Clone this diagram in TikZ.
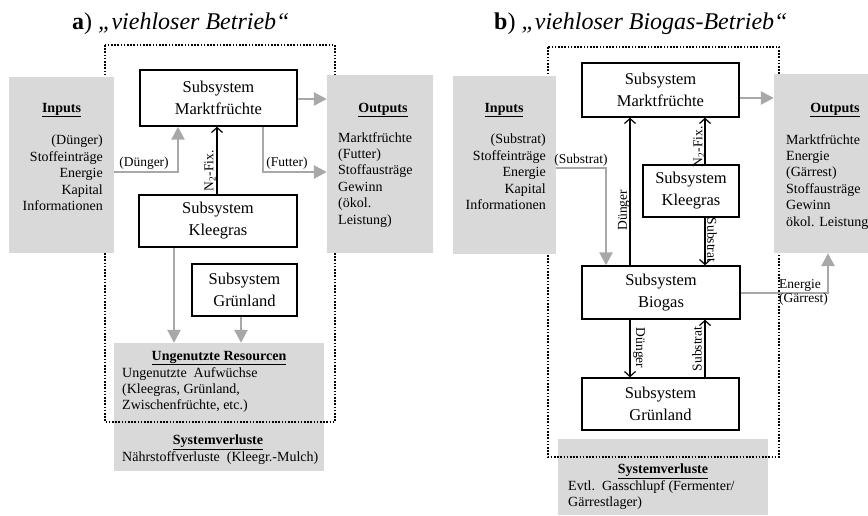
\documentclass[tikz,border=0pt]{standalone}
\usepackage{fontspec}
\setmainfont{Liberation Serif}
\usetikzlibrary{arrows.meta}
\definecolor{boxgray}{HTML}{D9D9D9}
\definecolor{arrgray}{HTML}{A8A8A8}
\tikzset{
  graybox/.style={fill=boxgray, draw=none, inner sep=0pt},
  subbox/.style={draw=black, line width=1.4pt, fill=white, inner sep=0pt, align=center, font=\fontsize{16.5}{22}\selectfont},
  garrow/.style={draw=arrgray, line width=2.6pt, -{Triangle[width=13pt,length=13pt]}},
  barrow/.style={draw=black, line width=1.2pt, -{Straight Barb[length=5pt,width=11pt,line width=1.2pt]}},
  sysframe/.style={line width=1.8pt, dash pattern=on 1.6pt off 1.6pt},
  small/.style={font=\fontsize{14}{16.4}\selectfont, inner sep=0pt},
  hdr/.style={font=\fontsize{14}{16.4}\selectfont\bfseries, inner sep=0pt},
  lbl/.style={font=\fontsize{13.5}{14}\selectfont, inner sep=0pt},
  ttl/.style={font=\fontsize{24}{28}\selectfont, inner sep=0pt, anchor=base west},
}
\begin{document}
\begin{tikzpicture}[x=1pt,y=-1pt]
\useasboundingbox (0,0) rectangle (868,515);
\fill[white] (0,0) rectangle (868,515);

% ---------- titles
\node[ttl] (titleA) at (72,29) {\textbf{a}) \textit{„viehloser Betrieb“}};
\node[ttl] (titleB) at (494,29) {\textbf{b}) \textit{„viehloser Biogas-Betrieb“}};

% ---------- lower gray boxes (under the dotted frame)
\node[graybox, minimum width=210pt, minimum height=128pt] (urA) at (219,407) {};
\node[graybox, minimum width=210pt, minimum height=76pt] (svB) at (663,477) {};

% ---------- dotted frames
\draw[sysframe] (105,45) rectangle (335,422);
\draw[sysframe] (548,47) rectangle (779,457);

% ---------- inputs / outputs boxes
\node[graybox, minimum width=105pt, minimum height=176pt] (inA) at (61.5,165) {};
\node[graybox, minimum width=106pt, minimum height=178pt] (outA) at (380,164) {};
\node[graybox, minimum width=103pt, minimum height=178pt] (inB) at (504.5,165) {};
\node[graybox, minimum width=94pt, minimum height=179pt] (outB) at (821,163.5) {};

% ---------- subsystem boxes
\node[subbox, minimum width=157pt, minimum height=56pt] (mfA) at (218.5,98) {Subsystem\\Marktfrüchte};
\node[subbox, minimum width=158pt, minimum height=52pt] (kgA) at (218,221) {Subsystem\\Kleegras};
\node[subbox, minimum width=105pt, minimum height=52pt] (glA) at (244.5,290) {Subsystem\\Grünland};

\node[subbox, minimum width=157pt, minimum height=54pt] (mfB) at (660.5,90) {Subsystem\\Marktfrüchte};
\node[subbox, minimum width=96pt, minimum height=52pt] (kgB) at (691,191) {Subsystem\\Kleegras};
\node[subbox, minimum width=158pt, minimum height=53pt] (bgB) at (661,292.5) {Subsystem\\Biogas};
\node[subbox, minimum width=157pt, minimum height=52pt] (glB) at (660.5,404) {Subsystem\\Grünland};

% ---------- helper coordinates
\coordinate (dA) at (178,172);
\coordinate (fA) at (263,172);
\coordinate (mA) at (0,99);
\coordinate (nA) at (217,0);
\coordinate (kA) at (174,0);
\coordinate (gA) at (241,0);
\coordinate (sB) at (606,168);
\coordinate (mB) at (0,98);
\coordinate (eB) at (828,293);
\coordinate (dB) at (630,0);
\coordinate (nB) at (705,0);

% ---------- arrows panel a
\draw[garrow] (inA.east |- dA) -| (mfA.south -| dA);
\draw[garrow] (mfA.south -| fA) |- (outA.west |- fA);
\draw[garrow] (mfA.east |- mA) -- (outA.west |- mA);
\draw[barrow] (kgA.north -| nA) -- (mfA.south -| nA);
\draw[garrow] (kgA.south -| kA) -- (urA.north -| kA);
\draw[garrow] (glA.south -| gA) -- (urA.north -| gA);

% ---------- arrows panel b
\draw[garrow] (inB.east |- sB) -| (bgB.north -| sB);
\draw[garrow] (mfB.east |- mB) -- (outB.west |- mB);
\draw[garrow] (bgB.east |- eB) -| (outB.south -| eB);
\draw[barrow] (bgB.north -| dB) -- (mfB.south -| dB);
\draw[barrow] (kgB.north -| nB) -- (mfB.south -| nB);
\draw[barrow] (kgB.south -| nB) -- (bgB.north -| nB);
\draw[barrow] (bgB.south -| dB) -- (glB.north -| dB);
\draw[barrow] (glB.north -| nB) -- (bgB.south -| nB);

% ---------- texts panel a
\node[hdr] (inAh) at (61.5,110) {\underline{Inputs}};
\node[small, anchor=north east, align=right] (inAt) at (103,135) {(Dünger)\\Stoffeinträge\\Energie\\Kapital\\Informationen};
\node[hdr] (outAh) at (383,110) {\underline{Outputs}};
\node[small, anchor=north west, align=left] (outAt) at (338,132) {Marktfrüchte\\(Futter)\\Stoffausträge\\Gewinn\\(ökol.\\Leistung)};
\node[hdr] (urAh) at (219,358) {\underline{Ungenutzte Resourcen}};
\node[small, anchor=north west, align=left] (urAt) at (122,367) {Ungenutzte\ \ Aufwüchse\\(Kleegras,\ Grünland,\\Zwischenfrüchte,\ etc.)};
\node[hdr] (svAh) at (218,442) {\underline{Systemverluste}};
\node[small, anchor=north west] (svAt) at (122,451) {Nährstoffverluste\ \ (Kleegr.-Mulch)};
\node[lbl] (lDA) at (144,163) {(Dünger)};
\node[lbl] (lFA) at (287,163) {(Futter)};
\node[lbl, rotate=90] (lNA) at (210,171) {N\textsubscript{2}-Fix.};

% ---------- texts panel b
\node[hdr] (inBh) at (504,110) {\underline{Inputs}};
\node[small, anchor=north east, align=right] (inBt) at (546,134) {(Substrat)\\Stoffeinträge\\Energie\\Kapital\\Informationen};
\node[hdr] (outBh) at (835,110) {\underline{Outputs}};
\node[small, anchor=north west, align=left] (outBt) at (786,134) {Marktfrüchte\\Energie\\(Gärrest)\\Stoffausträge\\Gewinn\\ökol. Leistung};
\node[hdr] (svBh) at (663,471) {\underline{Systemverluste}};
\node[small, anchor=north west, align=left] (svBt) at (568,480) {Evtl.\ \ Gasschlupf (Fermenter/\\Gärrestlager)};
\node[lbl] (lSB) at (581,160) {(Substrat)};
\node[lbl, anchor=north west, align=left] (lEB) at (779,279) {Energie\\(Gärrest)};
\node[lbl, rotate=90] (lDB1) at (624,210) {Dünger};
\node[lbl, rotate=90] (lNB) at (699,147) {N\textsubscript{2}-Fix.};
\node[lbl, rotate=-90] (lSB1) at (712,240) {Substrat};
\node[lbl, rotate=-90] (lDB2) at (639,348) {Dünger};
\node[lbl, rotate=90] (lSB2) at (697,349) {Substrat};
\end{tikzpicture}
\end{document}
